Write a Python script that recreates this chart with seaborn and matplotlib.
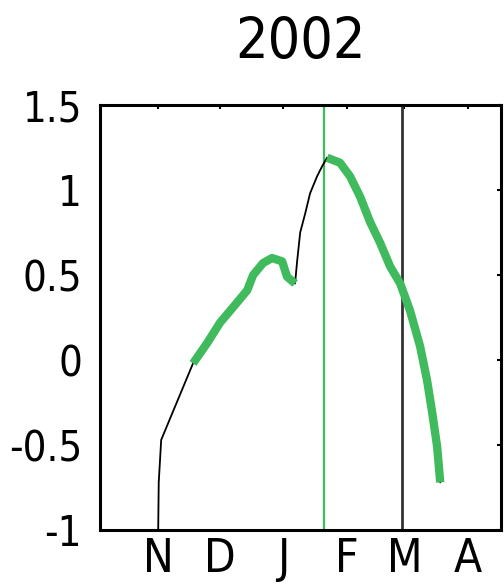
import matplotlib
matplotlib.use("Agg")
import matplotlib.pyplot as plt
import seaborn as sns

sns.set_style("white")
plt.rcParams['font.family'] = ['DejaVu Sans Condensed', 'DejaVu Sans']
plt.rcParams['font.stretch'] = 'condensed'

# ---------------- data (days since 1 Nov) ----------------
title = "2002"
days_all = [0, 0.3, 1.5, 17, 23.9, 30.2, 36.5, 43.4, 46.3, 51.1, 55.5, 60.4, 62.8, 66.7,
            67.7, 69.2, 71.6, 74, 77.4, 79.9, 82.3, 88.6, 93.5, 98.4, 103.3, 108.1,
            113, 117.9, 122.7, 127.6, 131, 133.5, 135.9, 137.4]
vals_all = [-1.05, -0.72, -0.47, -0.02, 0.10, 0.22, 0.31, 0.41, 0.50, 0.57, 0.60, 0.58, 0.49, 0.45,
            0.58, 0.75, 0.86, 0.98, 1.08, 1.14, 1.19, 1.16, 1.08, 0.96, 0.81, 0.69,
            0.55, 0.45, 0.29, 0.08, -0.12, -0.31, -0.51, -0.72]
green1_days = [17, 23.9, 30.2, 36.5, 43.4, 46.3, 51.1, 55.5, 60.4, 62.8, 66.7]
green1_vals = [-0.02, 0.10, 0.22, 0.31, 0.41, 0.50, 0.57, 0.60, 0.58, 0.49, 0.45]
green2_days = [82.3, 88.6, 93.5, 98.4, 103.3, 108.1, 113, 117.9, 122.7, 127.6, 131, 133.5, 135.9, 137.4]
green2_vals = [1.19, 1.16, 1.08, 0.96, 0.81, 0.69, 0.55, 0.45, 0.29, 0.08, -0.12, -0.31, -0.51, -0.72]
green_day = 81
black_day = 119
month_ticks = [0, 30, 61, 92, 120, 151]
month_labels = ['N', 'D', 'J', 'F', 'M', 'A']
y_ticks = [-1, -0.5, 0, 0.5, 1, 1.5]
y_labels = ['-1', '-0.5', '0', '0.5', '1', '1.5']

GREEN = '#3fba5c'

#=================== plot ===================
fig = plt.figure(figsize=(5.04, 5.86), dpi=100)
ax = fig.add_axes([100/504, 56/586, 401/504, 425/586])

ax.axvline(green_day, color=GREEN, lw=1.6, zorder=1)
ax.axvline(black_day, color='#333333', lw=2.0, zorder=1)

sns.lineplot(x=days_all, y=vals_all, ax=ax, color='k', lw=1.3, sort=False, zorder=2)
sns.lineplot(x=green1_days, y=green1_vals, ax=ax, color=GREEN, lw=6, sort=False,
             zorder=3, solid_capstyle='butt')
sns.lineplot(x=green2_days, y=green2_vals, ax=ax, color=GREEN, lw=6, sort=False,
             zorder=3, solid_capstyle='butt')

ax.set_xlim(-28.3, 167)
ax.set_ylim(-1, 1.5)
ax.set_xticks(month_ticks)
ax.set_xticklabels(month_labels)
ax.set_yticks(y_ticks)
ax.set_yticklabels(y_labels)
ax.tick_params(axis='both', direction='in', length=3, width=1.5, colors='k',
               top=True, right=True)
ax.tick_params(axis='y', pad=13, labelsize=30)
ax.tick_params(axis='x', pad=5, labelsize=33)
for spine in ax.spines.values():
    spine.set_linewidth(2.2)
    spine.set_color('k')

ax.set_title(title, fontsize=41, pad=33, color='k')

fig.savefig("out.png", dpi=100)
